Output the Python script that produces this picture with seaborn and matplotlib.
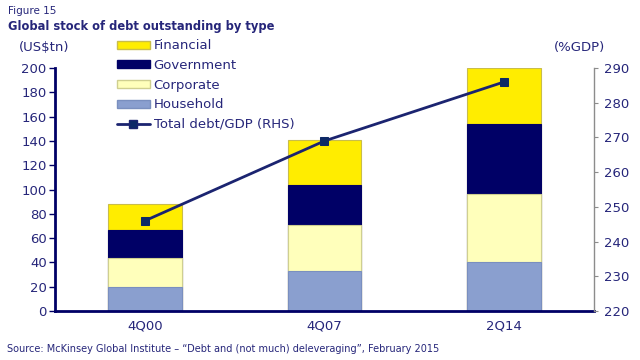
import matplotlib
matplotlib.use("Agg")
import matplotlib.pyplot as plt
import seaborn as sns
import pandas as pd
from matplotlib.patches import Patch
from matplotlib.lines import Line2D

# data
quarters = ["4Q00", "4Q07", "2Q14"]
household = [20, 33, 40]
corporate = [24, 37.5, 56]
government = [23, 33, 58]
financial = [21, 37.5, 46]
debt_to_gdp = [246, 269, 286]

NAVY = "#000066"
TEXT = "#26267a"

sns.set_style("white")
plt.rcParams["font.family"] = ["DejaVu Sans"]

df = pd.DataFrame({
    "quarter": quarters,
    "Household": household,
    "Corporate": corporate,
    "Government": government,
    "Financial": financial,
})
# cumulative tops for stacking
df["c_house"] = df["Household"]
df["c_corp"] = df["c_house"] + df["Corporate"]
df["c_gov"] = df["c_corp"] + df["Government"]
df["c_fin"] = df["c_gov"] + df["Financial"]

layers = [
    ("c_fin", "#ffed00", "#c9bd4a", "Financial"),
    ("c_gov", NAVY, NAVY, "Government"),
    ("c_corp", "#ffffbb", "#cfcf90", "Corporate"),
    ("c_house", "#8a9fcf", "#7a8fbf", "Household"),
]

fig = plt.figure(figsize=(6.4, 3.6), dpi=100)
ax = fig.add_axes([0.086, 0.136, 0.842, 0.675])

for col, fc, ec, _ in layers:
    sns.barplot(data=df, x="quarter", y=col, ax=ax, color=fc, width=0.41,
                saturation=1, edgecolor=ec, linewidth=0.8)

ax.set_ylim(0, 200)
ax.set_xlim(-0.5, 2.5)
ax.set_yticks(range(0, 201, 20))
ax.set_xlabel("")
ax.set_ylabel("")
ax.tick_params(axis="y", colors=TEXT, labelsize=9.5, length=4, width=1,
               direction="out", left=True, pad=2)
ax.tick_params(axis="y", color=NAVY)
ax.tick_params(axis="x", colors=TEXT, labelsize=9.5, length=0, pad=6)
ax.set_xticks([0, 1, 2], quarters)
for s in ["top", "right"]:
    ax.spines[s].set_visible(False)
ax.spines["left"].set_color(NAVY)
ax.spines["left"].set_linewidth(2)
ax.spines["bottom"].set_color(NAVY)
ax.spines["bottom"].set_linewidth(2)

ax2 = ax.twinx()
sns.lineplot(x=quarters, y=debt_to_gdp, ax=ax2, color="#1b2470", linewidth=2,
             marker="s", markersize=6, markerfacecolor="#0d2a66",
             markeredgecolor="#0d2a66")
ax2.set_ylim(220, 290)
ax2.set_yticks(range(220, 291, 10))
ax2.set_xlim(-0.5, 2.5)
ax2.set_ylabel("")
for s in ["top", "left", "bottom"]:
    ax2.spines[s].set_visible(False)
ax2.spines["right"].set_color("#8c8c8c")
ax2.spines["right"].set_linewidth(1)
ax2.tick_params(axis="y", colors=TEXT, labelsize=9.5, length=3, width=0.8,
                direction="out", pad=4, right=True)
ax2.tick_params(axis="y", color="#8c8c8c")

handles = [Patch(facecolor=fc, edgecolor=ec, label=lab) for _, fc, ec, lab in layers]
handles.append(Line2D([0], [0], color="#1b2470", linewidth=2, marker="s",
                      markersize=6, markerfacecolor="#0d2a66",
                      label="Total debt/GDP (RHS)"))
leg = fig.legend(handles=handles, loc="upper left", bbox_to_anchor=(0.174, 0.905),
                 frameon=False, fontsize=9.5, handlelength=2.5, handleheight=0.55,
                 handletextpad=0.3, labelspacing=0.5, borderaxespad=0)
for t in leg.get_texts():
    t.set_color(TEXT)

fig.text(0.012, 0.962, "Figure 15", fontsize=7.5, color=TEXT)
fig.text(0.012, 0.917, "Global stock of debt outstanding by type", fontsize=8.3,
         fontweight="bold", color=TEXT)
fig.text(0.03, 0.858, "(US$tn)", fontsize=9.5, color=TEXT)
fig.text(0.865, 0.858, "(%GDP)", fontsize=9.5, color=TEXT)
fig.text(0.011, 0.022, "Source: McKinsey Global Institute \u2013 \u201cDebt and (not much) "
         "deleveraging\u201d, February 2015", fontsize=7.0, color=TEXT)

fig.savefig("out.png", dpi=100)
